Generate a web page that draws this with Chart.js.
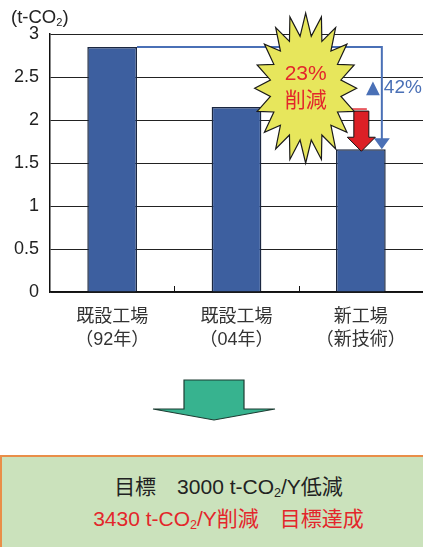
<!DOCTYPE html>
<html>
<head>
<meta charset="utf-8">
<script src="https://cdn.jsdelivr.net/npm/chart.js@4"></script>
<style>
  body { margin: 0; background: #fff; width: 423px; height: 547px; overflow: hidden; position: relative;
         font-family: 'Liberation Sans', 'Noto Sans CJK JP', sans-serif; }
  #wrap { position: absolute; left: 0; top: 0; width: 423px; height: 456px; }
  #unit { position: absolute; left: 11px; top: 6px; font-size: 18.5px; color: #222; }
  sub { font-size: 0.6em; vertical-align: -0.25em; line-height: 0; }
  #box { position: absolute; left: 0; top: 455px; width: 423px; height: 92px; box-sizing: border-box;
         background: #cbe2bc; border-top: 2.5px solid #e98e48; border-left: 2.5px solid #e98e48;
         text-align: center; font-size: 21px; }
  #line1 { position: absolute; left: 0; right: 0; top: 13px; padding-left: 32px; color: #222; }
  #line2 { position: absolute; left: 0; right: 0; top: 45px; padding-left: 32px; color: #e3262b; }
</style>
</head>
<body>
<div id="wrap"><canvas id="co2Chart"></canvas></div>
<div id="unit">(t-CO<sub>2</sub>)</div>
<div id="box">
  <div id="line1">目標　3000 t-CO<sub>2</sub>/Y低減</div>
  <div id="line2">3430 t-CO<sub>2</sub>/Y削減　目標達成</div>
</div>
<script>
// --- data ---
const categories = [['既設工場', '（92年）'], ['既設工場', '（04年）'], ['新工場', '（新技術）']];
const emissions = [2.85, 2.15, 1.66];
const yTicks = [0, 0.5, 1, 1.5, 2, 2.5, 3];
const burstText = ['23%', '削減'];
const totalCutMark = '▲';
const totalCutText = '42%';

const FONT = "'Liberation Sans', 'Noto Sans CJK JP', sans-serif";

function arrowHead(ctx, x, tipY, halfW, len, color) {
    ctx.beginPath();
    ctx.moveTo(x - halfW, tipY - len);
    ctx.lineTo(x + halfW, tipY - len);
    ctx.lineTo(x, tipY);
    ctx.closePath();
    ctx.fillStyle = color;
    ctx.fill();
}

// draws the annotations on top of the bars
const decorations = {
    id: 'decorations',
    afterDraw(chart) {
        const ctx = chart.ctx;
        const xs = chart.scales.x, ys = chart.scales.y;
        const area = chart.chartArea;
        const meta = chart.getDatasetMeta(0);
        const b1 = meta.data[0], b2 = meta.data[1], b3 = meta.data[2];
        ctx.save();

        // small inward ticks between categories
        ctx.strokeStyle = '#111';
        ctx.lineWidth = 1;
        for (let i = 0; i < categories.length - 1; i++) {
            const x = Math.round((xs.getPixelForValue(i) + xs.getPixelForValue(i + 1)) / 2) + 0.5;
            ctx.beginPath();
            ctx.moveTo(x, area.bottom);
            ctx.lineTo(x, area.bottom - 6);
            ctx.stroke();
        }

        // blue connector: 92 level -> new plant
        const blue = '#4a70b6';
        const yTop = ys.getPixelForValue(emissions[0]);
        const yNew = ys.getPixelForValue(emissions[2]);
        const xTurn = b3.x + 21;
        ctx.strokeStyle = blue;
        ctx.lineWidth = 2;
        ctx.beginPath();
        ctx.moveTo(b1.x + b1.width / 2, yTop);
        ctx.lineTo(xTurn, yTop);
        ctx.lineTo(xTurn, yNew - 9);
        ctx.stroke();
        arrowHead(ctx, xTurn, yNew, 8, 11, blue);

        // red: 04 level -> new plant
        const red = '#dc2026';
        const y04 = ys.getPixelForValue(emissions[1]);
        ctx.strokeStyle = '#e85a60';
        ctx.lineWidth = 2;
        ctx.beginPath();
        ctx.moveTo(b3.x - 14, y04 + 2);
        ctx.lineTo(b3.x + 6, y04 + 2);
        ctx.stroke();
        const rx = b3.x + 0.5;
        ctx.beginPath();
        ctx.moveTo(rx - 7.5, y04 + 4);
        ctx.lineTo(rx + 7.5, y04 + 4);
        ctx.lineTo(rx + 7.5, yNew - 12);
        ctx.lineTo(rx + 14, yNew - 12);
        ctx.lineTo(rx, yNew + 2);
        ctx.lineTo(rx - 14, yNew - 12);
        ctx.lineTo(rx - 7.5, yNew - 12);
        ctx.closePath();
        ctx.fillStyle = red;
        ctx.fill();
        ctx.strokeStyle = '#111';
        ctx.lineWidth = 1;
        ctx.stroke();

        // starburst
        const cx = (xs.getPixelForValue(1) + xs.getPixelForValue(2)) / 2 + 7;
        const cy = ys.getPixelForValue(2.37);
        const spikes = 20;
        ctx.beginPath();
        for (let i = 0; i < spikes * 2; i++) {
            const a = -Math.PI / 2 + i * Math.PI / spikes;
            const r = i % 2 === 0 ? 1 : 0.7;
            const px = cx + Math.cos(a) * 51 * r;
            const py = cy + Math.sin(a) * 75 * r;
            if (i === 0) ctx.moveTo(px, py); else ctx.lineTo(px, py);
        }
        ctx.closePath();
        ctx.fillStyle = '#e7e65c';
        ctx.fill();
        ctx.strokeStyle = '#1a1a1a';
        ctx.lineWidth = 1.2;
        ctx.stroke();

        ctx.fillStyle = '#e3262b';
        ctx.textAlign = 'center';
        ctx.textBaseline = 'middle';
        ctx.font = '21px ' + FONT;
        ctx.fillText(burstText[0], cx, cy - 14);
        ctx.fillText(burstText[1], cx, cy + 13);

        // total reduction label: mark left of the line, number right of it
        const ly = ys.getPixelForValue(2.37);
        ctx.fillStyle = blue;
        ctx.textAlign = 'left';
        ctx.font = '19px ' + FONT;
        ctx.fillText(totalCutText, xTurn + 2, ly);
        ctx.textAlign = 'right';
        ctx.font = "18px 'DejaVu Sans', 'Noto Sans CJK JP', sans-serif";
        ctx.fillText(totalCutMark, xTurn - 2, ly);

        // green block arrow below the chart
        const gx = 214;
        ctx.beginPath();
        ctx.moveTo(gx - 30, 380);
        ctx.lineTo(gx + 30, 380);
        ctx.lineTo(gx + 30, 409);
        ctx.lineTo(gx + 61, 409);
        ctx.lineTo(gx, 420);
        ctx.lineTo(gx - 61, 409);
        ctx.lineTo(gx - 30, 409);
        ctx.closePath();
        ctx.fillStyle = '#37b38f';
        ctx.fill();
        ctx.strokeStyle = '#1d3d33';
        ctx.lineWidth = 1.2;
        ctx.stroke();

        ctx.restore();
    }
};

new Chart(document.getElementById('co2Chart'), {
    type: 'bar',
    data: {
        labels: categories,
        datasets: [{
            data: emissions,
            backgroundColor: '#3d5f9f',
            borderColor: '#1b2740',
            borderWidth: 1.5,
            barPercentage: 0.4,
            categoryPercentage: 1
        }]
    },
    options: {
        responsive: true,
        maintainAspectRatio: false,
        animation: false,
        layout: { padding: { top: 34, left: 0, right: 0, bottom: 104 } },
        plugins: { legend: { display: false }, tooltip: { enabled: false } },
        scales: {
            x: {
                offset: true,
                grid: { display: false },
                border: { display: true, color: '#111', width: 1.5 },
                ticks: { color: '#333', font: { size: 18, family: FONT, lineHeight: 1.3 }, padding: 5 },
                afterFit: (s) => { s.height = 60; }
            },
            y: {
                min: 0, max: 3,
                afterBuildTicks: (s) => { s.ticks = yTicks.map(v => ({ value: v })); },
                grid: { color: '#222', lineWidth: 1, drawTicks: false },
                border: { display: true, color: '#111', width: 1.5 },
                ticks: { color: '#222', font: { size: 18, family: FONT }, padding: 11,
                         callback: (v) => String(v) },
                afterFit: (s) => { s.width = 50; }
            }
        }
    },
    plugins: [decorations]
});
</script>
</body>
</html>
